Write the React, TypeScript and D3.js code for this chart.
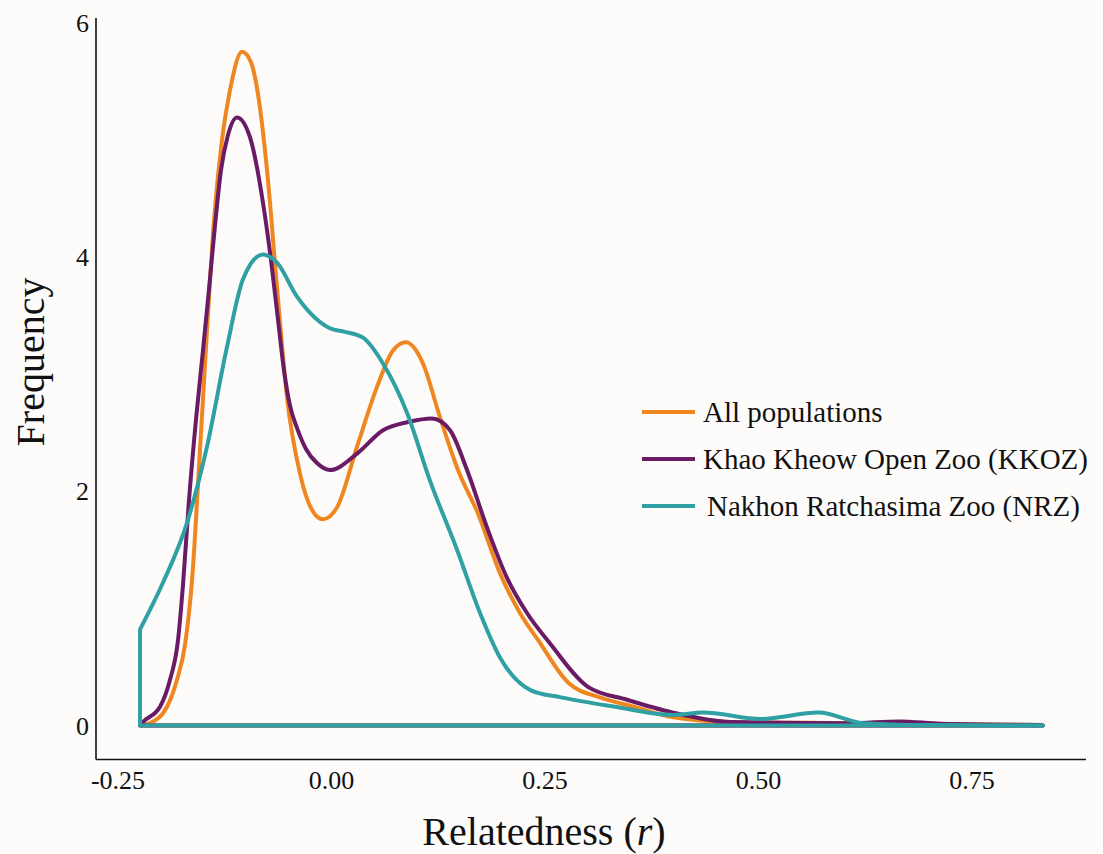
import React from 'react';
import * as d3 from 'd3';

const seriesNames = ['All populations', 'Khao Kheow Open Zoo (KKOZ)', 'Nakhon Ratchasima Zoo (NRZ)'];
const seriesColors = ['#F0861F', '#6A1B66', '#2FA0A3'];

// All populations
const allR = [-0.2242, -0.2125, -0.1926, -0.1809, -0.1715, -0.1633, -0.154, -0.1458, -0.1376, -0.1282, -0.1189, -0.1048, -0.0943, -0.0872, -0.0755, -0.0638, -0.0521, -0.0369, -0.0228, -0.01, 0.0064, 0.0299, 0.0533, 0.072, 0.0872, 0.1071, 0.127, 0.1481, 0.1715, 0.1973, 0.2207, 0.2418, 0.278, 0.3144, 0.354, 0.4, 0.467, 0.601, 0.833];
const allF = [0, 0.02, 0.16, 0.39, 0.69, 1.24, 2.35, 3.37, 4.31, 5.0, 5.42, 5.75, 5.66, 5.44, 4.74, 3.74, 2.8, 2.15, 1.84, 1.76, 1.86, 2.38, 2.89, 3.2, 3.27, 3.09, 2.63, 2.18, 1.81, 1.3, 0.96, 0.73, 0.36, 0.24, 0.16, 0.07, 0.03, 0.02, 0.005];

// KKOZ
const kkozR = [-0.2242, -0.2207, -0.2008, -0.1891, -0.1797, -0.1739, -0.1669, -0.1587, -0.1505, -0.1435, -0.1364, -0.1294, -0.1212, -0.1107, -0.0954, -0.0802, -0.0708, -0.0626, -0.0556, -0.0486, -0.0404, -0.0299, -0.017, -0.0018, 0.0299, 0.0603, 0.0896, 0.1177, 0.1388, 0.1587, 0.1821, 0.2055, 0.2289, 0.2559, 0.3003, 0.346, 0.4, 0.467, 0.607, 0.665, 0.714, 0.833];
const kkozF = [0, 0.03, 0.16, 0.39, 0.73, 1.2, 1.92, 2.61, 3.2, 3.72, 4.27, 4.74, 5.04, 5.19, 5.02, 4.46, 3.97, 3.46, 3.03, 2.73, 2.54, 2.36, 2.24, 2.18, 2.32, 2.52, 2.59, 2.62, 2.52, 2.18, 1.69, 1.26, 0.96, 0.7, 0.33, 0.22, 0.11, 0.03, 0.02, 0.035, 0.015, 0.005];

// NRZ
const nrzR = [-0.2242, -0.1973, -0.1692, -0.1458, -0.1224, -0.1036, -0.0802, -0.0638, -0.0404, -0.0193, -0.0018, 0.0158, 0.0369, 0.0603, 0.0884, 0.1153, 0.147, 0.1739, 0.1973, 0.2336, 0.2687, 0.332, 0.4, 0.435, 0.503, 0.57, 0.623, 0.691, 0.833];
const nrzF = [0.82, 1.22, 1.73, 2.38, 3.23, 3.81, 4.02, 3.95, 3.66, 3.48, 3.39, 3.36, 3.31, 3.09, 2.67, 2.09, 1.5, 0.96, 0.58, 0.3, 0.24, 0.16, 0.09, 0.11, 0.055, 0.11, 0.02, 0.004, 0];

const xTicks = [-0.25, 0, 0.25, 0.5, 0.75];
const xTickLabels = ['-0.25', '0.00', '0.25', '0.50', '0.75'];
const yTicks = [0, 2, 4, 6];
const yTickLabels = ['0', '2', '4', '6'];
const rangeMin = -0.2242;
const rangeMax = 0.833;

export default function App() {
  const W = 1103;
  const H = 854;
  const x = d3.scaleLinear().domain([-0.25, 0.75]).range([118, 972]);
  const y = d3.scaleLinear().domain([0, 6]).range([725.5, 22.5]);
  const line = d3
    .line<[number, number]>()
    .x((d) => x(d[0]))
    .y((d) => y(d[1]))
    .curve(d3.curveMonotoneX);

  const zip = (a: number[], b: number[]) => a.map((v, i) => [v, b[i]] as [number, number]);
  const allPath = line(zip(allR, allF)) || '';
  const kkozPath = line(zip(kkozR, kkozF)) || '';
  const nrzCurve = line(zip(nrzR, nrzF)) || '';
  const nrzPath = `M${x(rangeMin)},${y(0)}L` + nrzCurve.slice(1);
  const paths = [allPath, kkozPath, nrzPath];

  const serif = '"Liberation Serif", "Times New Roman", serif';
  const axisX = 96;
  const axisY = 759.5;

  return (
    <div style={{ position: 'absolute', left: 0, top: 0 }}>
      <svg width={W} height={H} style={{ display: 'block', background: '#fdfcfa' }} fontFamily={serif}>
        <rect x={0} y={0} width={W} height={H} fill="#fdfcfa" />
        {/* axes */}
        <line x1={axisX} y1={18} x2={axisX} y2={axisY} stroke="#111" strokeWidth={1.6} />
        <line x1={axisX} y1={axisY} x2={1086} y2={axisY} stroke="#111" strokeWidth={1.6} />
        {yTicks.map((t, i) => (
          <text key={'y' + t} x={89} y={y(t)} dy="0.35em" textAnchor="end" fontSize={26} fill="#111">
            {yTickLabels[i]}
          </text>
        ))}
        {xTicks.map((t, i) => (
          <text key={'x' + t} x={x(t)} y={789} textAnchor="middle" fontSize={26} fill="#111">
            {xTickLabels[i]}
          </text>
        ))}
        <text x={544} y={845} textAnchor="middle" fontSize={40} fill="#111">
          Relatedness (<tspan fontStyle="italic">r</tspan>)
        </text>
        <text transform="translate(44,362) rotate(-90)" textAnchor="middle" fontSize={40} fill="#111">
          Frequency
        </text>
        {/* density curves */}
        {paths.map((p, i) => (
          <g key={'s' + i}>
            <line
              x1={x(rangeMin)}
              y1={y(0)}
              x2={x(rangeMax)}
              y2={y(0)}
              stroke={seriesColors[i]}
              strokeWidth={4}
              strokeLinecap="round"
            />
            <path d={p} fill="none" stroke={seriesColors[i]} strokeWidth={4} strokeLinejoin="round" />
          </g>
        ))}
        {/* legend */}
        {seriesNames.map((n, i) => {
          const ly = 412 + i * 47;
          return (
            <g key={'l' + i}>
              <line x1={642} y1={ly} x2={695} y2={ly} stroke={seriesColors[i]} strokeWidth={4} />
              <text x={i === 2 ? 707 : 703} y={ly + 10} fontSize={29} fill="#111">
                {n}
              </text>
            </g>
          );
        })}
      </svg>
    </div>
  );
}
